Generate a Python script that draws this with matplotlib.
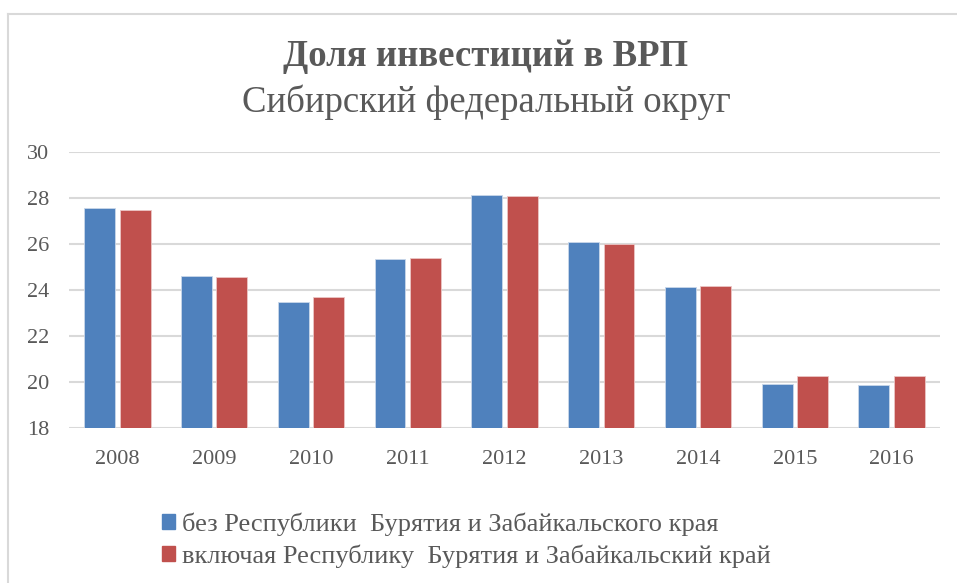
import matplotlib
matplotlib.use("Agg")
from matplotlib import pyplot as plt
from matplotlib.lines import Line2D
from matplotlib.patches import Patch
import numpy as np

years = ['2008', '2009', '2010', '2011', '2012', '2013', '2014', '2015', '2016']
bez = [27.56, 24.61, 23.49, 25.36, 28.12, 26.10, 24.12, 19.93, 19.87]
vkl = [27.50, 24.58, 23.69, 25.40, 28.09, 25.99, 24.19, 20.28, 20.28]
labels = ['без Республики  Бурятия и Забайкальского края',
          'включая Республику  Бурятия и Забайкальский край']

plt.rcParams['font.family'] = ['Liberation Serif', 'DejaVu Serif']
W, H = 957, 583
fig = plt.figure(figsize=(W / 100, H / 100), dpi=100)

# рамка области диаграммы
fig.add_artist(Line2D([8 / W, 8 / W], [0, 1 - 14 / H], color='#D9D9D9', lw=1.5))
fig.add_artist(Line2D([8 / W, 1], [1 - 14 / H, 1 - 14 / H], color='#D9D9D9', lw=1.5))

ax = fig.add_axes([69 / W, 1 - 428 / H, (940 - 69) / W, (428 - 152) / H])
x = np.arange(len(years))
w = 0.32
ax.bar(x - 0.183, [v - 18 for v in bez], w, bottom=18, color='#4F81BD',
       edgecolor='#C9D7EA', linewidth=0.6, label=labels[0], zorder=3)
ax.bar(x + 0.183, [v - 18 for v in vkl], w, bottom=18, color='#C0504D',
       edgecolor='#EBC6C5', linewidth=0.6, label=labels[1], zorder=3)

ax.set_xlim(-0.5, len(years) - 0.5)
ax.set_ylim(18, 30)
ax.set_yticks(range(18, 31, 2))
ax.set_xticks(x)
ax.set_xticklabels(years)
ax.grid(axis='y', color='#D9D9D9', linewidth=1.5, zorder=0)
for s in ax.spines.values():
    s.set_visible(False)
ax.tick_params(length=0, labelsize=16, colors='#595959')
ax.tick_params(axis='y', pad=14.5)
ax.tick_params(axis='x', pad=15.5)

fig.text(486 / W, 1 - 57 / H, 'Доля инвестиций в ВРП', ha='center', va='center',
         fontsize=26.5, fontweight='bold', color='#595959')
fig.text(486 / W, 1 - 102 / H, 'Сибирский федеральный округ', ha='center', va='center',
         fontsize=26.5, color='#595959')

handles = [Patch(color='#4F81BD'), Patch(color='#C0504D')]
fig.legend(handles, labels, loc='center left', bbox_to_anchor=(161.5 / W, 1 - 540 / H),
           frameon=False, fontsize=19, labelcolor='#595959', handlelength=0.53,
           handleheight=0.53, handletextpad=0.25, labelspacing=0.32,
           borderpad=0, borderaxespad=0)

fig.savefig('out.png', dpi=100, facecolor='white')
